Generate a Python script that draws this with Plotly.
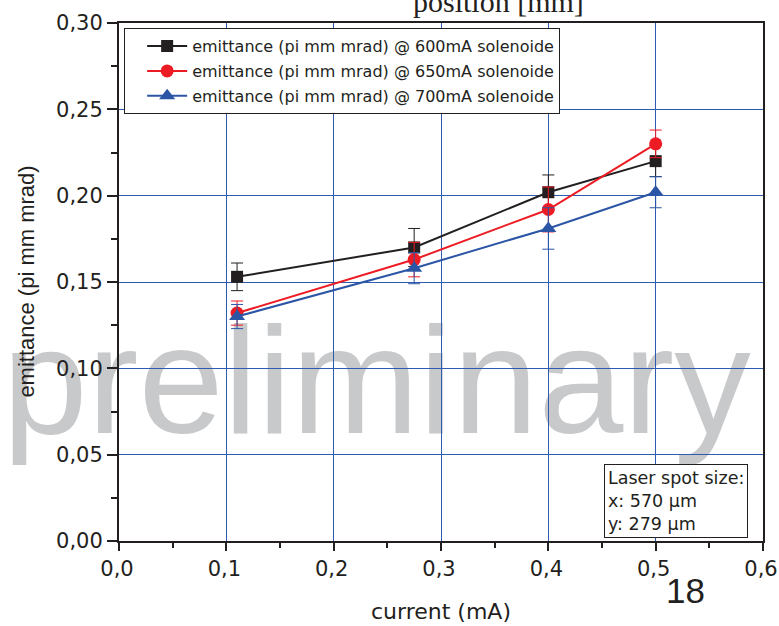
import plotly.graph_objects as go

current = [0.11, 0.275, 0.40, 0.50]
emit_600 = [0.153, 0.170, 0.202, 0.220]
err_600 = [0.008, 0.011, 0.010, 0.009]
emit_650 = [0.132, 0.163, 0.192, 0.230]
err_650 = [0.007, 0.010, 0.013, 0.008]
emit_700 = [0.130, 0.158, 0.181, 0.202]
err_700 = [0.007, 0.009, 0.012, 0.009]

names = ["emittance (pi mm mrad) @ 600mA solenoide",
         "emittance (pi mm mrad) @ 650mA solenoide",
         "emittance (pi mm mrad) @ 700mA solenoide"]
colors = ["#231f20", "#ed1c24", "#2b55a5"]
symbols = ["square", "circle", "triangle-up"]
sizes = [12, 13, 14]

WIDE = "DejaVu Sans, Verdana, sans-serif"
ARIAL = "Liberation Sans, Arial, sans-serif"
INK = "#231f20"

fig = go.Figure()
for i, (y, e, n, c, s, sz) in enumerate(zip([emit_600, emit_650, emit_700],
                                            [err_600, err_650, err_700],
                                            names, colors, symbols, sizes)):
    fig.add_trace(go.Scatter(
        x=current, y=y, name=n, mode="lines+markers", legendgroup=f"g{i}",
        line=dict(color=c, width=2),
        marker=dict(color=c, symbol=s, size=sz),
        error_y=dict(type="data", array=e, visible=True, color=c,
                     thickness=1, width=6),
    ))

fig.update_layout(
    width=779, height=626,
    margin=dict(l=119, r=16, t=23, b=85),
    paper_bgcolor="white", plot_bgcolor="white",
    separators=",.",
    font=dict(family=WIDE, color=INK, size=21),
    showlegend=True,
    legend=dict(x=0.008, y=0.99, xanchor="left", yanchor="top",
                bgcolor="white", bordercolor=INK, borderwidth=1,
                font=dict(size=16, family=WIDE), tracegroupgap=1, itemwidth=40,
                indentation=17),
    xaxis=dict(range=[0, 0.6], dtick=0.1, tick0=0, tickformat=".1f",
               showline=True, linecolor=INK, linewidth=2, mirror=True,
               ticks="outside", ticklen=8, tickwidth=2, tickcolor=INK,
               minor=dict(dtick=0.05, ticks="outside", ticklen=5, tickwidth=2,
                          tickcolor=INK, showgrid=False),
               showgrid=True, gridcolor="#2e5bb0", gridwidth=1,
               zeroline=False, automargin=False, ticklabeloverflow="allow",
               ticklabelshift=-2),
    yaxis=dict(range=[0, 0.30], dtick=0.05, tick0=0, tickformat=".2f",
               showline=True, linecolor=INK, linewidth=2, mirror=True,
               ticks="outside", ticklen=10, tickwidth=2, tickcolor=INK,
               minor=dict(dtick=0.025, ticks="outside", ticklen=6, tickwidth=2,
                          tickcolor=INK, showgrid=False),
               showgrid=True, gridcolor="#2e5bb0", gridwidth=1,
               zeroline=False, automargin=False, ticklabeloverflow="allow"),
)

# watermark below grid
fig.add_shape(type="rect", xref="paper", yref="paper",
              x0=0.3, x1=0.5, y0=0.273, y1=0.403, layer="below",
              line=dict(width=0), fillcolor="rgba(0,0,0,0)",
              label=dict(text="preliminary", textposition="middle center",
                         font=dict(size=153, color="#c8c9cb", family=ARIAL)))

# axis titles
fig.add_annotation(xref="paper", yref="paper", x=0.5, y=-0.137,
                   xanchor="center", yanchor="middle", text="current (mA)",
                   showarrow=False, font=dict(size=22, family=WIDE, color=INK))
fig.add_annotation(xref="paper", yref="paper", x=-0.145, y=0.5,
                   xanchor="center", yanchor="middle", textangle=-90,
                   text="emittance (pi mm mrad)",
                   showarrow=False, font=dict(size=22, family=ARIAL, color=INK))

fig.add_annotation(xref="paper", yref="paper", x=0.7535, y=0.006,
                   xanchor="left", yanchor="bottom", align="left",
                   text="Laser spot size:<br>x: 570 µm<br>y: 279 µm",
                   showarrow=False, font=dict(size=17.5, color=INK, family=WIDE),
                   bgcolor="white", bordercolor=INK, borderwidth=1,
                   borderpad=3)

fig.add_annotation(xref="paper", yref="paper", x=0.880, y=-0.0946,
                   xanchor="center", yanchor="middle", text="18",
                   showarrow=False, font=dict(size=35, color=INK, family=ARIAL))

fig.add_annotation(xref="paper", yref="paper", x=0.589, y=1.0415,
                   xanchor="center", yanchor="middle", text="position [mm]",
                   showarrow=False,
                   font=dict(size=30, color=INK,
                             family="Liberation Serif, Times New Roman, serif"))

fig.write_html("out.html")
